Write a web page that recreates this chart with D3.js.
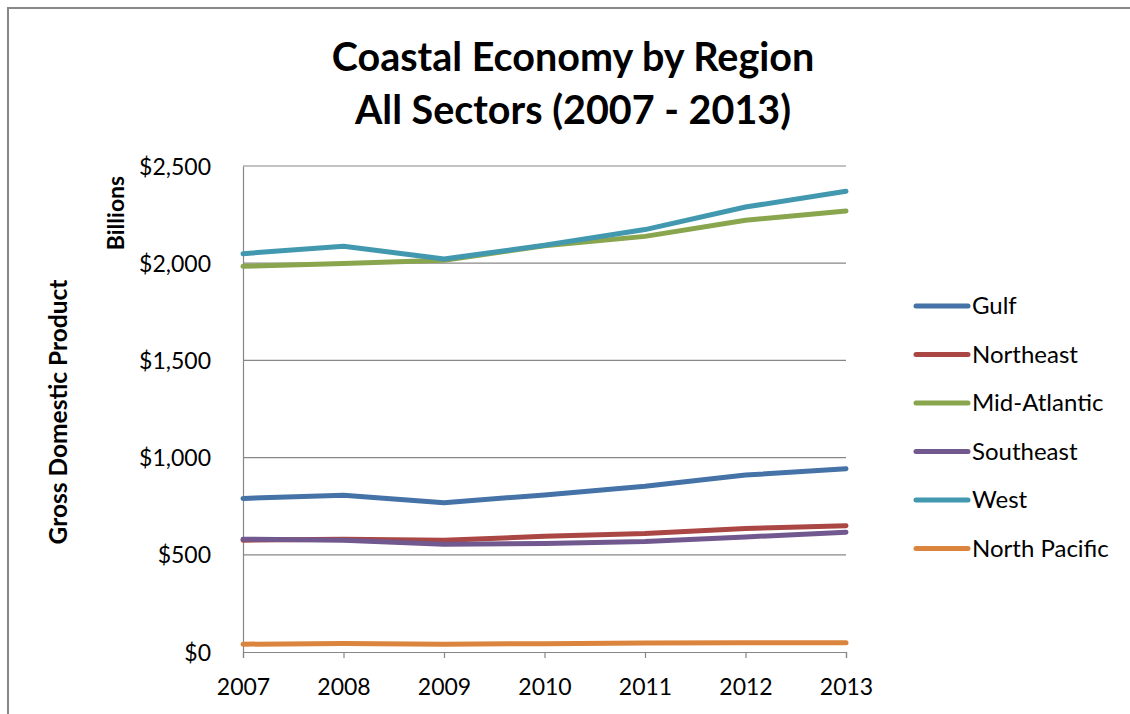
<!DOCTYPE html>
<html>
<head>
<meta charset="utf-8">
<script src="https://cdn.jsdelivr.net/npm/d3@7"></script>
<style>
  html, body { margin: 0; padding: 0; background: #fff; }
  svg { display: block; }
  text { font-family: Lato, "Open Sans", sans-serif; fill: #000; }
</style>
</head>
<body>
<svg id="chart" width="1130" height="714"></svg>
<script>
// Coastal GDP by region, billions of dollars
const years = [2007, 2008, 2009, 2010, 2011, 2012, 2013];
const regions = ["Gulf", "Northeast", "Mid-Atlantic", "Southeast", "West", "North Pacific"];
const colors = ["#4572A7", "#AA4643", "#89A54E", "#71588F", "#4198AF", "#DB843D"];
const gulf = [790, 806, 768, 808, 853, 910, 943];
const northeast = [575, 580, 575, 595, 609, 635, 650];
const midAtlantic = [1984, 1998, 2015, 2090, 2138, 2221, 2269];
const southeast = [580, 575, 554, 558, 568, 592, 616];
const west = [2049, 2087, 2022, 2092, 2173, 2289, 2370];
const northPacific = [40, 44, 40, 43, 46, 47, 47];
const yTicks = [0, 500, 1000, 1500, 2000, 2500];
const titleLines = ["Coastal Economy by Region", "All Sectors (2007 - 2013)"];

const series = [gulf, northeast, midAtlantic, southeast, west, northPacific]
  .map((values, i) => ({ name: regions[i], color: colors[i], values }));

const svg = d3.select("#chart");

// outer chart frame (right and bottom edges run past the canvas)
svg.append("rect")
  .attr("x", 8).attr("y", 8).attr("width", 1140).attr("height", 730)
  .attr("fill", "none").attr("stroke", "#878787").attr("stroke-width", 2);

const plot = { left: 243, right: 846, top: 166, bottom: 652 };

const x = d3.scalePoint().domain(years).range([plot.left, plot.right]);
const y = d3.scaleLinear().domain([0, 2500]).range([plot.bottom, plot.top]);

// horizontal gridlines
svg.append("g").selectAll("line")
  .data(yTicks.filter(t => t > 0))
  .join("line")
  .attr("x1", plot.left).attr("x2", plot.right)
  .attr("y1", d => y(d)).attr("y2", d => y(d))
  .attr("stroke", "#878787").attr("stroke-width", 1.2);

// y axis
const yAxis = svg.append("g")
  .attr("transform", `translate(${plot.left},0)`)
  .call(d3.axisLeft(y).tickValues(yTicks).tickSize(0).tickPadding(32)
    .tickFormat(d => "$" + d3.format(",")(d)));
yAxis.select(".domain").attr("stroke", "#878787").attr("stroke-width", 1.2);
yAxis.selectAll("text").style("font-size", "23px").attr("dy", "0.35em");

// x axis
const xAxis = svg.append("g")
  .attr("transform", `translate(0,${plot.bottom})`)
  .call(d3.axisBottom(x).tickSizeInner(6).tickSizeOuter(6).tickPadding(21)
    .tickFormat(d3.format("d")));
xAxis.select(".domain").attr("stroke", "#878787").attr("stroke-width", 1.2);
xAxis.selectAll(".tick line").attr("stroke", "#878787").attr("stroke-width", 1.2);
xAxis.selectAll("text").style("font-size", "23px");

// series lines
const line = d3.line().x((d, i) => x(years[i])).y(d => y(d));
svg.append("g").selectAll("path")
  .data(series)
  .join("path")
  .attr("d", d => line(d.values))
  .attr("fill", "none")
  .attr("stroke", d => d.color)
  .attr("stroke-width", 5)
  .attr("stroke-linejoin", "round")
  .attr("stroke-linecap", "round");

// title
svg.append("g").selectAll("text")
  .data(titleLines)
  .join("text")
  .attr("x", 573)
  .attr("y", (d, i) => 71 + i * 53)
  .attr("text-anchor", "middle")
  .style("font-size", "39.5px")
  .style("font-weight", "bold")
  .text(d => d);

// axis titles
svg.append("text")
  .attr("transform", "translate(116,213) rotate(-90)")
  .attr("text-anchor", "middle").attr("dy", "0.35em")
  .style("font-size", "23px").style("font-weight", "bold")
  .text("Billions");
svg.append("text")
  .attr("transform", "translate(58,412) rotate(-90)")
  .attr("text-anchor", "middle").attr("dy", "0.35em")
  .style("font-size", "24.5px").style("font-weight", "bold")
  .text("Gross Domestic Product");

// legend
const legend = svg.append("g").selectAll("g")
  .data(series)
  .join("g")
  .attr("transform", (d, i) => `translate(916,${306 + i * 48.5})`);
legend.append("line")
  .attr("x1", 0).attr("x2", 52)
  .attr("stroke", d => d.color).attr("stroke-width", 5)
  .attr("stroke-linecap", "round");
legend.append("text")
  .attr("x", 56).attr("dy", "0.35em")
  .style("font-size", "24px")
  .text(d => d.name);
</script>
</body>
</html>
